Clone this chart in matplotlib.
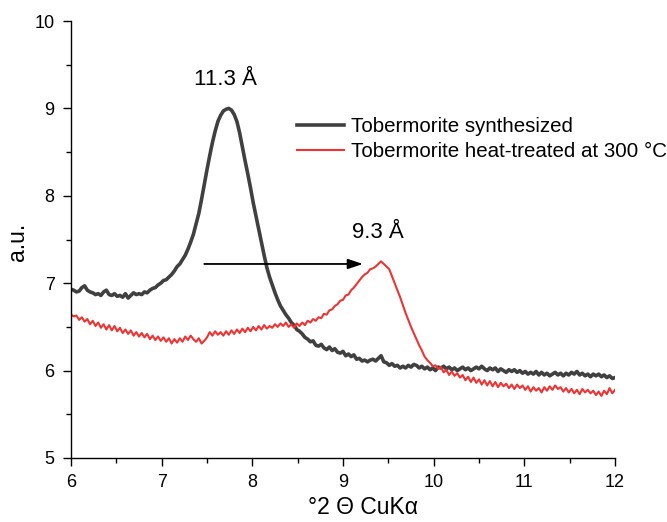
import numpy as np
import matplotlib
matplotlib.use("Agg")
import matplotlib.pyplot as plt

plt.rcParams['font.family'] = ['Liberation Sans', 'DejaVu Sans']

# 2-theta grid (step 0.03 deg from 6 to 12)
two_theta = np.linspace(6.0, 12.0, 201)

synthesized = [
    6.93, 6.92, 6.90, 6.91, 6.95, 6.97, 6.92, 6.90, 6.89, 6.87,
    6.88, 6.86, 6.90, 6.92, 6.87, 6.86, 6.88, 6.85, 6.86, 6.84,
    6.88, 6.83, 6.86, 6.89, 6.87, 6.88, 6.87, 6.90, 6.89, 6.92,
    6.94, 6.95, 6.98, 7.00, 7.03, 7.04, 7.07, 7.10, 7.14, 7.19,
    7.22, 7.27, 7.32, 7.39, 7.47, 7.56, 7.68, 7.80, 7.96, 8.13,
    8.30, 8.46, 8.61, 8.74, 8.85, 8.92, 8.97, 8.99, 9.00, 8.98,
    8.93, 8.85, 8.72, 8.56, 8.40, 8.25, 8.09, 7.92, 7.77, 7.62,
    7.47, 7.32, 7.18, 7.07, 6.98, 6.89, 6.81, 6.74, 6.69, 6.64,
    6.60, 6.55, 6.52, 6.47, 6.45, 6.42, 6.38, 6.36, 6.33, 6.34,
    6.29, 6.28, 6.30, 6.26, 6.24, 6.27, 6.23, 6.25, 6.21, 6.20,
    6.22, 6.17, 6.19, 6.16, 6.18, 6.13, 6.14, 6.11, 6.12, 6.10,
    6.12, 6.13, 6.11, 6.14, 6.17, 6.10, 6.09, 6.06, 6.08, 6.05,
    6.06, 6.03, 6.05, 6.03, 6.06, 6.04, 6.07, 6.06, 6.03, 6.05,
    6.02, 6.04, 6.01, 6.03, 6.00, 6.04, 6.03, 6.05, 6.02, 6.04,
    6.01, 6.03, 6.00, 6.02, 6.04, 6.01, 6.03, 6.00, 6.02, 6.04,
    6.02, 6.05, 6.02, 6.00, 6.03, 6.01, 6.03, 5.99, 6.02, 6.00,
    5.98, 6.01, 5.99, 6.01, 5.98, 6.00, 5.97, 5.99, 5.96, 5.98,
    5.96, 5.99, 5.95, 5.98, 5.95, 5.97, 5.94, 5.96, 5.98, 5.95,
    5.97, 5.94, 5.97, 5.95, 5.98, 5.96, 5.99, 5.95, 5.97, 5.94,
    5.96, 5.93, 5.96, 5.94, 5.96, 5.93, 5.95, 5.92, 5.94, 5.91,
    5.92,
]

heat_treated = [
    6.64, 6.62, 6.63, 6.58, 6.61, 6.56, 6.59, 6.53, 6.57, 6.51,
    6.55, 6.49, 6.53, 6.47, 6.52, 6.46, 6.51, 6.45, 6.49, 6.43,
    6.47, 6.42, 6.46, 6.40, 6.44, 6.39, 6.43, 6.38, 6.42, 6.36,
    6.40, 6.35, 6.39, 6.34, 6.38, 6.33, 6.37, 6.31, 6.36, 6.32,
    6.37, 6.33, 6.39, 6.35, 6.40, 6.36, 6.33, 6.37, 6.31, 6.34,
    6.38, 6.44, 6.40, 6.45, 6.41, 6.44, 6.40, 6.45, 6.41, 6.46,
    6.42, 6.47, 6.43, 6.48, 6.44, 6.49, 6.45, 6.50, 6.46, 6.51,
    6.47, 6.52, 6.48, 6.51, 6.49, 6.53, 6.50, 6.54, 6.51, 6.55,
    6.50, 6.53, 6.49, 6.54, 6.51, 6.55, 6.52, 6.57, 6.55, 6.59,
    6.57, 6.61, 6.60, 6.65, 6.64, 6.69, 6.70, 6.74, 6.76, 6.80,
    6.81, 6.86, 6.87, 6.92, 6.95, 6.99, 7.03, 7.07, 7.10, 7.12,
    7.16, 7.17, 7.19, 7.22, 7.25, 7.22, 7.19, 7.16, 7.08, 7.00,
    6.92, 6.84, 6.75, 6.66, 6.58, 6.50, 6.43, 6.36, 6.29, 6.23,
    6.16, 6.12, 6.09, 6.05, 6.06, 6.02, 6.04, 5.98, 6.01, 5.95,
    5.99, 5.94, 5.97, 5.92, 5.95, 5.89, 5.93, 5.87, 5.92, 5.86,
    5.90, 5.84, 5.89, 5.83, 5.88, 5.82, 5.87, 5.81, 5.86, 5.82,
    5.85, 5.80, 5.84, 5.79, 5.84, 5.80, 5.83, 5.78, 5.82, 5.76,
    5.81, 5.77, 5.80, 5.75, 5.81, 5.77, 5.82, 5.78, 5.83, 5.79,
    5.81, 5.76, 5.80, 5.75, 5.79, 5.74, 5.78, 5.73, 5.79, 5.75,
    5.78, 5.74, 5.77, 5.72, 5.76, 5.71, 5.77, 5.73, 5.80, 5.74,
    5.78,
]

series_labels = ["Tobermorite synthesized", "Tobermorite heat-treated at 300 °C"]
peak_labels = ["11.3 Å", "9.3 Å"]
peak_label_pos = [(7.70, 9.33), (9.39, 7.58)]
arrow_start = (7.47, 7.22)
arrow_end = (9.22, 7.22)

fig = plt.figure(figsize=(6.67, 5.22), dpi=100)
ax = fig.add_axes([71/667, 1-458/522, 544/667, 437/522])

ax.plot(two_theta, synthesized, color='#404040', lw=2.6, label=series_labels[0], solid_joinstyle='round')
ax.plot(two_theta, heat_treated, color='#ee3333', lw=1.5, label=series_labels[1])

ax.set_xlim(6, 12)
ax.set_ylim(5, 10)
ax.set_xticks(np.arange(6, 12.01, 1))
ax.set_xticks(np.arange(6.5, 12, 1), minor=True)
ax.set_yticks(np.arange(5, 10.01, 1))
ax.set_yticks(np.arange(5.5, 10, 1), minor=True)
ax.spines['top'].set_visible(False)
ax.spines['right'].set_visible(False)
for s in ['left', 'bottom']:
    ax.spines[s].set_linewidth(1.0)
ax.tick_params(which='major', direction='out', length=5.5, width=1.0, labelsize=13, pad=6.3)
ax.tick_params(which='minor', direction='out', length=3.5, width=1.0)

ax.set_xlabel("°2 Θ CuKα", fontsize=16.5)
ax.xaxis.label.set_va('center')
ax.xaxis.set_label_coords(0.537, -0.114)
ax.set_ylabel("a.u.", fontsize=16.5)
ax.yaxis.label.set_va('center')
ax.yaxis.set_label_coords(-0.099, 0.494)

for txt, (px, py) in zip(peak_labels, peak_label_pos):
    ax.text(px, py, txt, fontsize=16, ha='center', va='center')

ax.annotate("", xy=arrow_end, xytext=arrow_start,
            arrowprops=dict(arrowstyle='-|>,head_length=0.9,head_width=0.3', color='black', lw=1.3,
                            shrinkA=0, shrinkB=0))

ax.legend(loc='upper left', bbox_to_anchor=(0.415, 0.780), frameon=False, fontsize=14.8,
          handlelength=2.3, handletextpad=0.35, labelspacing=0.3, borderpad=0, borderaxespad=0)

fig.savefig("out.png", dpi=100)
